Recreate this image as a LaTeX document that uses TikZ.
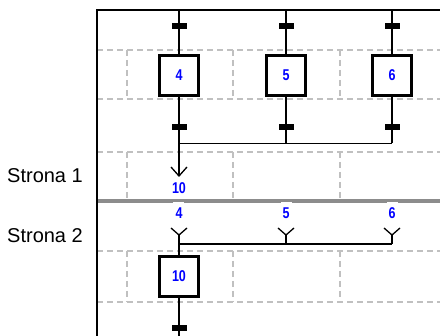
\documentclass[tikz,border=0pt]{standalone}
\usepackage{fontspec}
\setmainfont{Liberation Sans}
\newfontfamily\numfont{Liberation Sans}
\definecolor{gridgray}{RGB}{192,192,192}
\definecolor{sepgray}{RGB}{140,140,140}
\definecolor{numblue}{RGB}{0,0,255}
\tikzset{
  conn/.style={line width=1.3pt, black},
  griddash/.style={line width=1.1pt, gridgray, dash pattern=on 6pt off 4pt},
  stepbox/.style={draw, line width=3.3pt, fill=white, minimum width=39pt, minimum height=40pt, inner sep=0pt,
     font=\numfont\bfseries\fontsize{12.5}{12.5}\selectfont, text=numblue},
  transbar/.style={fill=black, draw=none, minimum width=15pt, minimum height=6pt, inner sep=0pt},
  numlabel/.style={inner sep=0pt, font=\numfont\bfseries\fontsize{12.5}{12.5}\selectfont, text=numblue},
  pagelabel/.style={inner sep=0pt, anchor=base west, font=\fontsize{20}{20}\selectfont}
}
\begin{document}
\begin{tikzpicture}[x=1pt,y=-1pt]
\useasboundingbox (0,0) rectangle (440,336);
% grid
\foreach \yy in {50,99,152,251,302} \draw[griddash] (97,\yy) -- (440,\yy);
\foreach \xx in {127,233,340} {
  \draw[griddash] (\xx,50) -- (\xx,99);
  \draw[griddash] (\xx,152) -- (\xx,200);
  \draw[griddash] (\xx,251) -- (\xx,302);
}
% frame
\draw[line width=1.6pt] (440,10) -- (97,10) -- (97,336);
% separator
\draw[line width=4pt, sepgray] (97.8,201.5) -- (440,201.5);
\fill[white] (173,202.5) rectangle (184,204);
\fill[white] (281,202.5) rectangle (292,204);
\fill[white] (387,202.5) rectangle (398,204);
% page labels
\node[pagelabel] (p1) at (7,182.5) {Strona 1};
\node[pagelabel] (p2) at (7,242.5) {Strona 2};
% top coordinates
\coordinate (c4) at (179,10);
\coordinate (c5) at (286,10);
\coordinate (c6) at (392,10);
% steps
\node[stepbox] (s4) at (179,75.5) {\scalebox{1}[1.25]{4}};
\node[stepbox] (s5) at (286,75.5) {\scalebox{1}[1.25]{5}};
\node[stepbox] (s6) at (392,75.5) {\scalebox{1}[1.25]{6}};
% junctions
\coordinate (j4) at (179,143.5);
\coordinate (j5) at (286,143.5);
\coordinate (j6) at (392,143.5);
\coordinate (a10) at (179,176);
\draw[conn] (c4) -- (s4.north);
\draw[conn] (c5) -- (s5.north);
\draw[conn] (c6) -- (s6.north);
\draw[conn] (s4.south) -- (j4);
\draw[conn] (s5.south) -- (j5);
\draw[conn] (s6.south) -- (j6);
\draw[conn] (j4) -- (j6);
\draw[conn] (j4) -- (a10);
\draw[conn] (a10) ++(-8,-9) -- (a10) -- ++(8,-9);
% transitions
\node[transbar] (t4a) at (179,26) {};
\node[transbar] (t5a) at (286,26) {};
\node[transbar] (t6a) at (392,26) {};
\node[transbar] (t4b) at (179,127) {};
\node[transbar] (t5b) at (286,127) {};
\node[transbar] (t6b) at (392,127) {};
% labels
\node[numlabel] (l10) at (179,188.5) {\scalebox{1}[1.25]{10}};
\node[numlabel] (l4) at (179,213) {\scalebox{1}[1.25]{4}};
\node[numlabel] (l5) at (286,213) {\scalebox{1}[1.25]{5}};
\node[numlabel] (l6) at (392,213) {\scalebox{1}[1.25]{6}};
% lower part
\coordinate (y4) at (179,235);
\coordinate (y5) at (286,235);
\coordinate (y6) at (392,235);
\coordinate (h4) at (179,244);
\coordinate (h5) at (286,244);
\coordinate (h6) at (392,244);
\node[stepbox] (s10) at (179,276.5) {\scalebox{1}[1.25]{10}};
\coordinate (bot) at (179,336);
\draw[conn] (y4) ++(-8,-7) -- (y4) -- ++(8,-7);
\draw[conn] (y5) ++(-8,-7) -- (y5) -- ++(8,-7);
\draw[conn] (y6) ++(-8,-7) -- (y6) -- ++(8,-7);
\draw[conn] (y5) -- (h5);
\draw[conn] (y6) -- (h6);
\draw[conn] (h4) -- (h6);
\draw[conn] (y4) -- (s10.north);
\draw[conn] (s10.south) -- (bot);
\node[transbar] (t10) at (179,328.5) {};
\end{tikzpicture}
\end{document}
